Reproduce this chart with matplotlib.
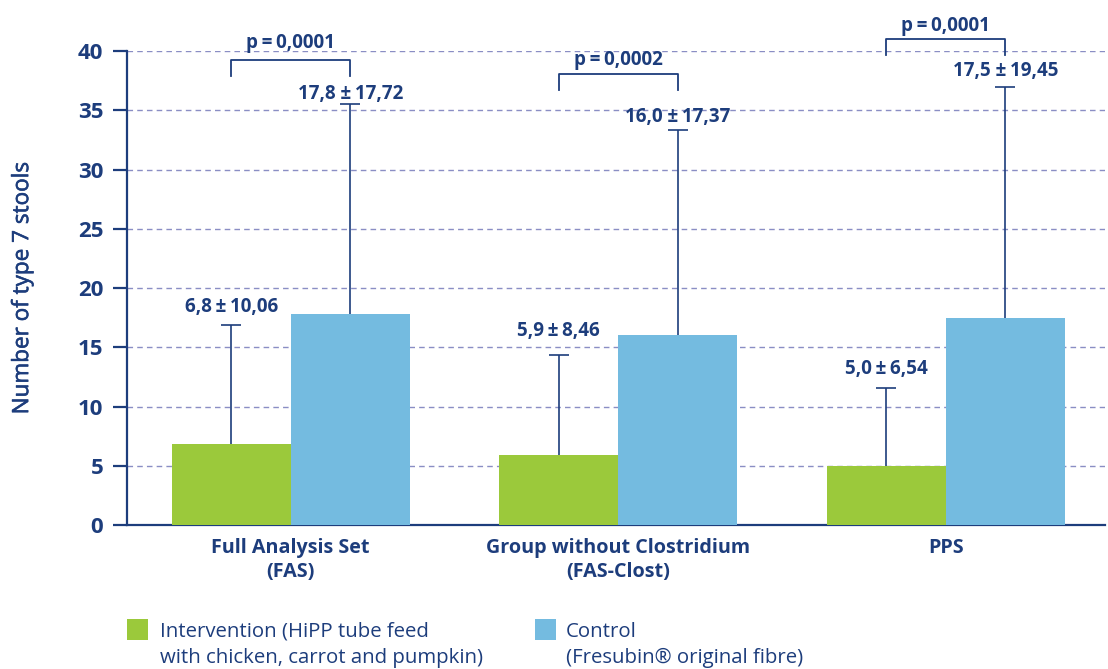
import numpy as np
import matplotlib
matplotlib.use("Agg")
import matplotlib.pyplot as plt
import matplotlib.patheffects as pe
from matplotlib.patches import Rectangle

# data
groups = ["Full Analysis Set\n(FAS)", "Group without Clostridium\n(FAS-Clost)", "PPS"]
intervention_mean = [6.8, 5.9, 5.0]
intervention_sd = [10.06, 8.46, 6.54]
control_mean = [17.8, 16.0, 17.5]
control_sd = [17.72, 17.37, 19.45]
p_values = ["0,0001", "0,0002", "0,0001"]
legend_labels = [
    "Intervention (HiPP tube feed\nwith chicken, carrot and pumpkin)",
    "Control\n(Fresubin\u00ae original fibre)",
]
y_ticks = [0, 5, 10, 15, 20, 25, 30, 35, 40]

# layout / style
GREEN = "#9bc93b"
BLUE = "#74bbe0"
NAVY = "#1d3d7c"
GRID = "#8a8ec4"
BAR_W = 0.363
bracket_y = [39.24, 38.06, 41.0]
bracket_leg = 1.35
p_gap = [1.0, 0.76, 0.73]
label_gap_int = [1.1, 1.6, 1.18]
label_gap_ctl = [0.42, 0.6, 0.93]

plt.rcParams["font.family"] = ["Open Sans", "DejaVu Sans"]

fig = plt.figure(figsize=(11.08, 6.69), dpi=100)
ax = fig.add_axes([0.1146, 0.2152, 0.8824, 0.7085])

x = np.arange(len(groups))
x_int = x - BAR_W / 2
x_ctl = x + BAR_W / 2

ax.bar(x_int, intervention_mean, BAR_W, color=GREEN, zorder=3)
ax.bar(x_ctl, control_mean, BAR_W, color=BLUE, zorder=3)

for xs, m, sd in [(x_int, intervention_mean, intervention_sd), (x_ctl, control_mean, control_sd)]:
    _, caps, _ = ax.errorbar(xs, m, yerr=[np.zeros(len(m)), sd], fmt="none",
                             ecolor=NAVY, elinewidth=1.2, capsize=7, capthick=1.2, zorder=2)
    # hide the lower caps (only the upper whisker is shown)
    for c in caps:
        if np.allclose(c.get_ydata(), m):
            c.set_visible(False)

# value labels, brackets, p-values
for i in range(len(groups)):
    top_i = intervention_mean[i] + intervention_sd[i]
    ax.text(x_int[i], top_i + label_gap_int[i],
            f"{intervention_mean[i]:.1f}\u2009\u00b1\u2009{intervention_sd[i]:.2f}".replace(".", ","),
            ha="center", va="baseline", color=NAVY, fontsize=13.5, fontweight="bold")
    top_c = control_mean[i] + control_sd[i]
    ax.text(x_ctl[i], top_c + label_gap_ctl[i],
            f"{control_mean[i]:.1f} \u00b1\u2009{control_sd[i]:.2f}".replace(".", ","),
            ha="center", va="baseline", color=NAVY, fontsize=13.5, fontweight="bold")

    by = bracket_y[i]
    ax.plot([x_int[i], x_int[i], x_ctl[i], x_ctl[i]],
            [by - bracket_leg, by, by, by - bracket_leg],
            color=NAVY, lw=1.3, clip_on=False, zorder=4)
    ax.text(x[i], by + p_gap[i], f"p\u2009=\u2009{p_values[i]}", ha="center", va="baseline",
            color=NAVY, fontsize=13.5, fontweight="bold", clip_on=False)

ax.set_xlim(-0.5, 2.485)
ax.set_ylim(0, 40)
ax.set_yticks(y_ticks)
ax.set_yticklabels([str(t) for t in y_ticks], fontsize=16, fontweight="bold", color=NAVY)
ax.set_xticks(x)
ax.set_xticklabels(groups, fontsize=14.2, fontweight="bold", color=NAVY, linespacing=1.3)
ax.tick_params(axis="x", length=0, pad=9)
ax.tick_params(axis="y", length=10, width=1.6, color=NAVY, pad=7)
ylab = ax.set_ylabel("Number of type 7 stools", fontsize=16.2, color=NAVY)
# a thin stroke gives the medium weight of the original label
ylab.set_path_effects([pe.withStroke(linewidth=0.4, foreground=NAVY)])
ax.yaxis.set_label_coords(-0.096, 0.5)

for s in ["top", "right"]:
    ax.spines[s].set_visible(False)
ax.spines["left"].set_color(NAVY)
ax.spines["left"].set_linewidth(1.6)
ax.spines["bottom"].set_color(NAVY)
ax.spines["bottom"].set_linewidth(1.6)

ax.yaxis.grid(True, linestyle=(0, (4, 3)), color=GRID, linewidth=1.0, zorder=0)
ax.set_axisbelow(True)

# legend drawn by hand (square aligned with first text line)
for colr, lab, xs, xt in [(GREEN, legend_labels[0], 0.1146, 0.1444),
                          (BLUE, legend_labels[1], 0.4829, 0.5108)]:
    fig.add_artist(Rectangle((xs, 0.0433), 0.019, 0.0314, transform=fig.transFigure,
                             facecolor=colr, edgecolor="none"))
    fig.text(xt, 0.071, lab, ha="left", va="top", color=NAVY, fontsize=14.7,
             linespacing=1.42)

fig.savefig("out.png", dpi=100)
